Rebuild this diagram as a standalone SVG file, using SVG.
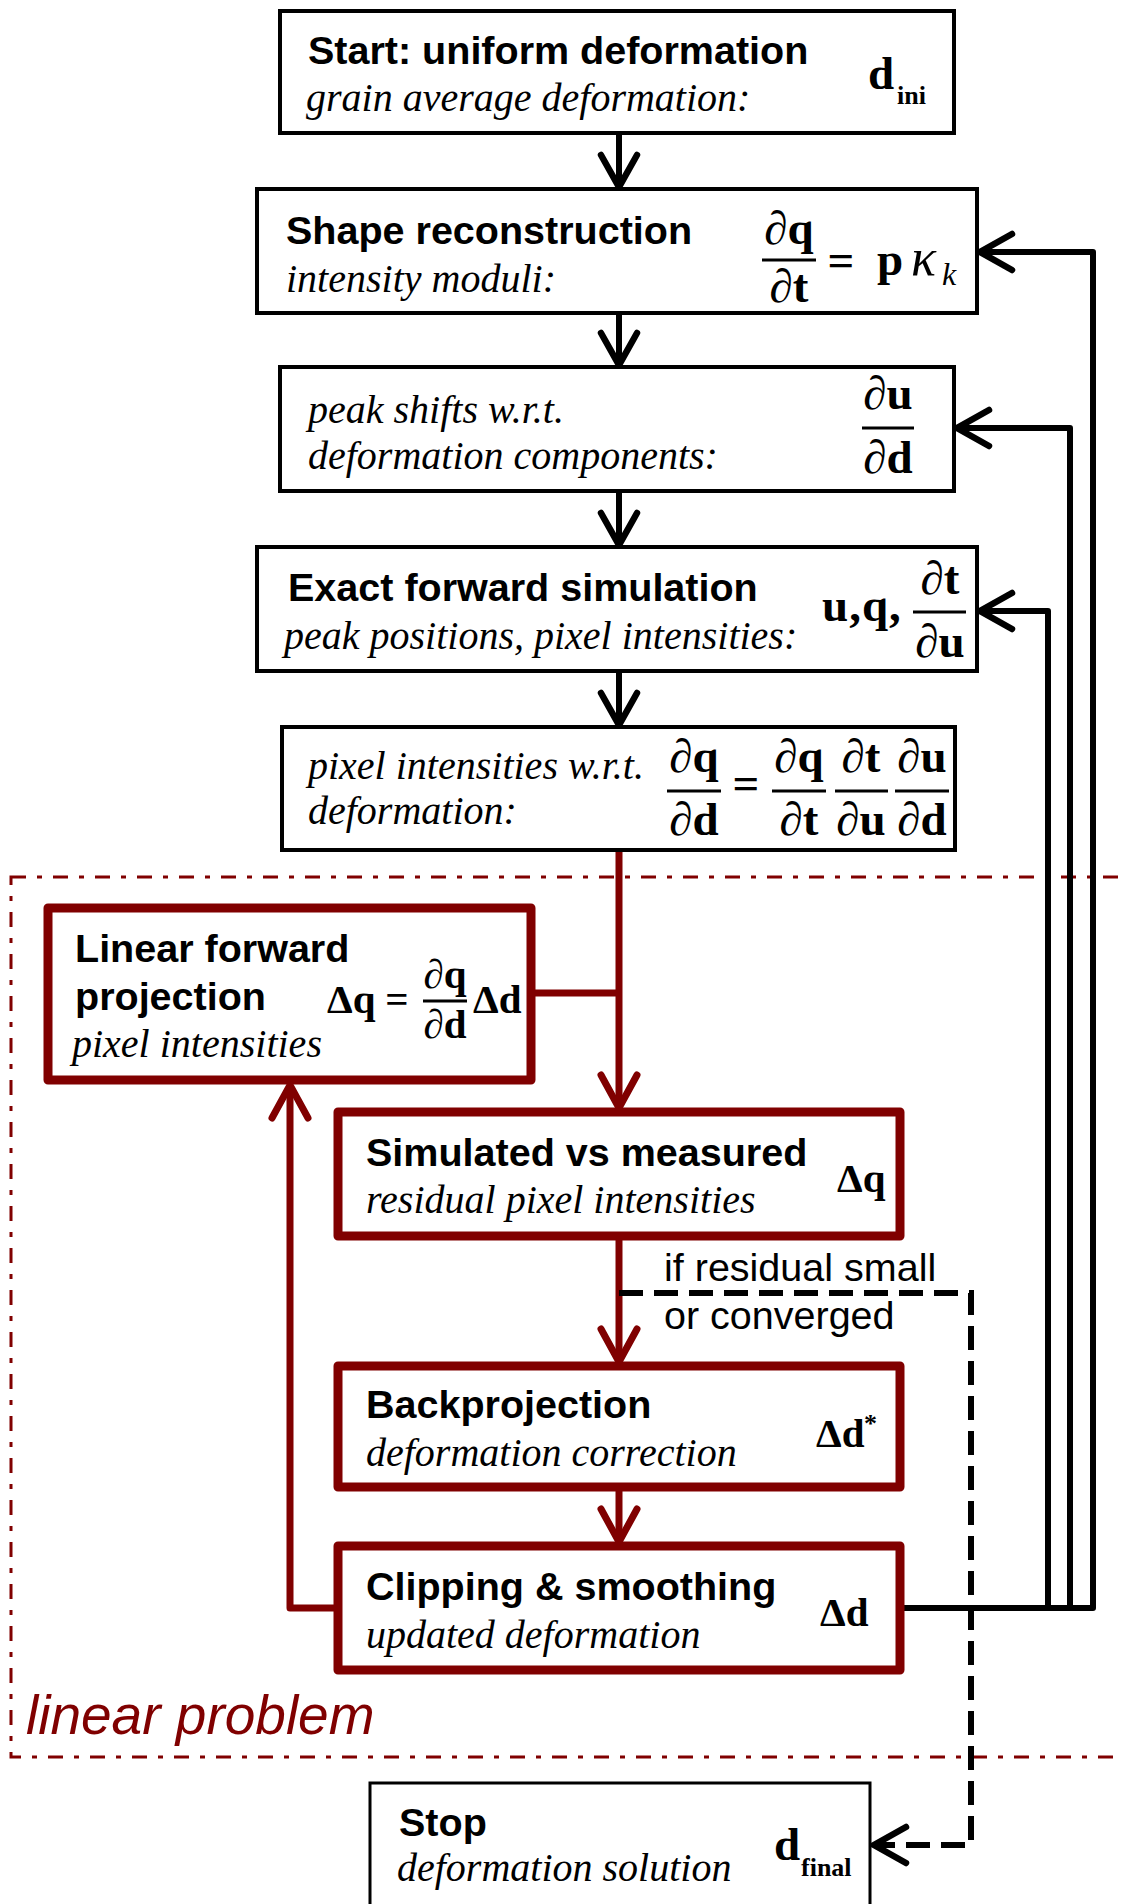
<svg xmlns="http://www.w3.org/2000/svg" width="1123" height="1904" viewBox="0 0 1123 1904">
  <style>
    .bg { fill: #ffffff; }
    .box { fill: #ffffff; stroke: #000000; stroke-width: 4; }
    .rbox { fill: #ffffff; stroke: #800000; stroke-width: 9; stroke-linejoin: round; }
    .sbox { fill: #ffffff; stroke: #000000; stroke-width: 3; }
    .title { font-family: "Liberation Sans", Arial, sans-serif; font-weight: bold; font-size: 39.5px; fill: #000; }
    .desc { font-family: "Liberation Serif", "Times New Roman", serif; font-style: italic; font-size: 40px; fill: #000; }
    .math { font-family: "Liberation Serif", "Times New Roman", serif; font-weight: bold; font-size: 47px; fill: #000; }
    .maths { font-family: "Liberation Serif", "Times New Roman", serif; font-weight: bold; font-size: 41px; fill: #000; }
    .sub { font-family: "Liberation Serif", "Times New Roman", serif; font-weight: bold; font-size: 26px; fill: #000; }
    .ital { font-family: "Liberation Serif", "Times New Roman", serif; font-style: italic; fill: #000; }
    .bar { stroke: #000; stroke-width: 3; }
    .label { font-family: "Liberation Sans", Arial, sans-serif; font-size: 39.5px; fill: #000; }
    .region { fill: none; stroke: #800000; stroke-width: 3; stroke-dasharray: 15 11 5 11; }
    .region-label { font-family: "Liberation Sans", Arial, sans-serif; font-style: italic; font-size: 55px; fill: #800000; }
    .flow { fill: none; stroke: #000; stroke-width: 6; stroke-linejoin: round; }
    .rflow { fill: none; stroke: #800000; stroke-width: 7; stroke-linejoin: round; }
    .dflow { fill: none; stroke: #000; stroke-width: 6; stroke-dasharray: 24 11; }
  </style>
  <defs>
    <marker id="arrow-black" markerUnits="userSpaceOnUse" viewBox="-40 -22 44 44" markerWidth="44" markerHeight="44" refX="0" refY="0" orient="auto" overflow="visible">
      <path d="M -32 -18 L 0 0 L -32 18" fill="none" stroke="#000" stroke-width="6.5" stroke-linecap="round" stroke-linejoin="miter"/>
    </marker>
    <marker id="arrow-red" markerUnits="userSpaceOnUse" viewBox="-40 -22 44 44" markerWidth="44" markerHeight="44" refX="0" refY="0" orient="auto" overflow="visible">
      <path d="M -33 -18 L 0 0 L -33 18" fill="none" stroke="#800000" stroke-width="7" stroke-linecap="round" stroke-linejoin="miter"/>
    </marker>
  </defs>

  <rect class="bg" x="0" y="0" width="1123" height="1904"/>

  <!-- dash-dot frame around the linear sub-problem -->
  <g id="linear-problem-region">
    <rect class="region" x="11" y="877" width="1140" height="880"/>
    <text class="region-label" x="26" y="1734">linear problem</text>
  </g>

  <g id="connectors">
    <!-- main chain -->
    <path class="flow" d="M 619 133 V 187" marker-end="url(#arrow-black)"/>
    <path class="flow" d="M 619 313 V 365" marker-end="url(#arrow-black)"/>
    <path class="flow" d="M 619 491 V 545" marker-end="url(#arrow-black)"/>
    <path class="flow" d="M 619 671 V 725" marker-end="url(#arrow-black)"/>
    <!-- feedback of the update into the non-linear steps -->
    <path class="flow" d="M 904 1608 H 1093 V 252 H 980" marker-end="url(#arrow-black)"/>
    <path class="flow" d="M 1070 1608 V 428 H 957" marker-end="url(#arrow-black)"/>
    <path class="flow" d="M 1048 1608 V 611 H 980" marker-end="url(#arrow-black)"/>
    <!-- linear loop -->
    <path class="rflow" d="M 619 850 V 1108" marker-end="url(#arrow-red)"/>
    <path class="rflow" d="M 619 993 H 535"/>
    <path class="rflow" d="M 619 1238 V 1362" marker-end="url(#arrow-red)"/>
    <path class="rflow" d="M 619 1489 V 1542" marker-end="url(#arrow-red)"/>
    <path class="rflow" d="M 336 1608 H 290 V 1085" marker-end="url(#arrow-red)"/>
    <!-- exit on convergence -->
    <path class="dflow" d="M 619 1293 H 971 V 1845 H 874" marker-end="url(#arrow-black)"/>
    <text class="label" x="664" y="1281">if residual small</text>
    <text class="label" x="664" y="1329">or converged</text>
  </g>

  <g id="start">
    <rect class="box" x="280" y="11" width="674" height="122"/>
    <text class="title" x="308" y="64">Start: uniform deformation</text>
    <text class="desc" x="306" y="111">grain average deformation:</text>
    <text class="math" x="868" y="89" font-size="49">d</text>
    <text class="sub" x="897" y="104">ini</text>
  </g>

  <g id="shape-reconstruction">
    <rect class="box" x="257" y="189" width="720" height="124"/>
    <text class="title" x="286" y="244">Shape reconstruction</text>
    <text class="desc" x="286" y="292">intensity moduli:</text>
    <text class="math" x="789" y="244" text-anchor="middle">∂q</text>
    <line class="bar" x1="762" y1="260" x2="816" y2="260"/>
    <text class="math" x="789" y="302" text-anchor="middle">∂t</text>
    <text class="math" x="841" y="276" font-size="53" text-anchor="middle">=</text>
    <text class="math" x="877" y="275">p</text>
    <text class="ital" x="911" y="275" font-size="52">κ</text>
    <text class="ital" x="942" y="285" font-size="32">k</text>
  </g>

  <g id="peak-shifts">
    <rect class="box" x="280" y="367" width="674" height="124"/>
    <text class="desc" x="308" y="423">peak shifts w.r.t.</text>
    <text class="desc" x="308" y="469">deformation components:</text>
    <text class="math" x="888" y="409" text-anchor="middle">∂u</text>
    <line class="bar" x1="862" y1="428" x2="914" y2="428"/>
    <text class="math" x="888" y="473" text-anchor="middle">∂d</text>
  </g>

  <g id="exact-forward-simulation">
    <rect class="box" x="257" y="547" width="720" height="124"/>
    <text class="title" x="288" y="601">Exact forward simulation</text>
    <text class="desc" x="284" y="649">peak positions, pixel intensities:</text>
    <text class="math" x="822" y="621" letter-spacing="1">u,q,</text>
    <text class="math" x="940" y="594" text-anchor="middle">∂t</text>
    <line class="bar" x1="913" y1="612" x2="966" y2="612"/>
    <text class="math" x="940" y="657" text-anchor="middle">∂u</text>
  </g>

  <g id="intensity-derivatives">
    <rect class="box" x="282" y="727" width="673" height="123"/>
    <text class="desc" x="308" y="779">pixel intensities w.r.t.</text>
    <text class="desc" x="308" y="824">deformation:</text>
    <text class="math" x="694" y="772" text-anchor="middle">∂q</text>
    <line class="bar" x1="667" y1="791" x2="721" y2="791"/>
    <text class="math" x="694" y="835" text-anchor="middle">∂d</text>
    <text class="math" x="746" y="799" font-size="53" text-anchor="middle">=</text>
    <text class="math" x="799" y="772" text-anchor="middle">∂q</text>
    <line class="bar" x1="772" y1="791" x2="826" y2="791"/>
    <text class="math" x="799" y="835" text-anchor="middle">∂t</text>
    <text class="math" x="861" y="772" text-anchor="middle">∂t</text>
    <line class="bar" x1="835" y1="791" x2="888" y2="791"/>
    <text class="math" x="861" y="835" text-anchor="middle">∂u</text>
    <text class="math" x="922" y="772" text-anchor="middle">∂u</text>
    <line class="bar" x1="895" y1="791" x2="949" y2="791"/>
    <text class="math" x="922" y="835" text-anchor="middle">∂d</text>
  </g>

  <g id="linear-forward-projection">
    <rect class="rbox" x="48" y="908" width="483" height="172"/>
    <text class="title" x="75" y="962">Linear forward</text>
    <text class="title" x="75" y="1010">projection</text>
    <text class="desc" x="72" y="1057">pixel intensities</text>
    <text class="maths" x="327" y="1013" font-size="39">Δq</text>
    <text class="maths" x="397" y="1013" font-size="42" text-anchor="middle">=</text>
    <text class="maths" x="445" y="988" font-size="39" text-anchor="middle">∂q</text>
    <line class="bar" x1="423" y1="1001" x2="467" y2="1001"/>
    <text class="maths" x="445" y="1038" font-size="39" text-anchor="middle">∂d</text>
    <text class="maths" x="473" y="1013" font-size="39">Δd</text>
  </g>

  <g id="residual">
    <rect class="rbox" x="338" y="1112" width="562" height="124"/>
    <text class="title" x="366" y="1166">Simulated vs measured</text>
    <text class="desc" x="366" y="1213">residual pixel intensities</text>
    <text class="maths" x="837" y="1192">Δq</text>
  </g>

  <g id="backprojection">
    <rect class="rbox" x="338" y="1366" width="562" height="121"/>
    <text class="title" x="366" y="1418">Backprojection</text>
    <text class="desc" x="366" y="1466">deformation correction</text>
    <text class="maths" x="816" y="1447">Δd</text>
    <text class="sub" x="864" y="1432">*</text>
  </g>

  <g id="clipping-smoothing">
    <rect class="rbox" x="338" y="1546" width="562" height="124"/>
    <text class="title" x="366" y="1600">Clipping &amp; smoothing</text>
    <text class="desc" x="366" y="1648">updated deformation</text>
    <text class="maths" x="820" y="1626">Δd</text>
  </g>

  <g id="stop">
    <rect class="sbox" x="370" y="1783" width="500" height="150"/>
    <text class="title" x="399" y="1836">Stop</text>
    <text class="desc" x="397" y="1881">deformation solution</text>
    <text class="math" x="774" y="1860" font-size="49">d</text>
    <text class="sub" x="801" y="1876">final</text>
  </g>
</svg>
